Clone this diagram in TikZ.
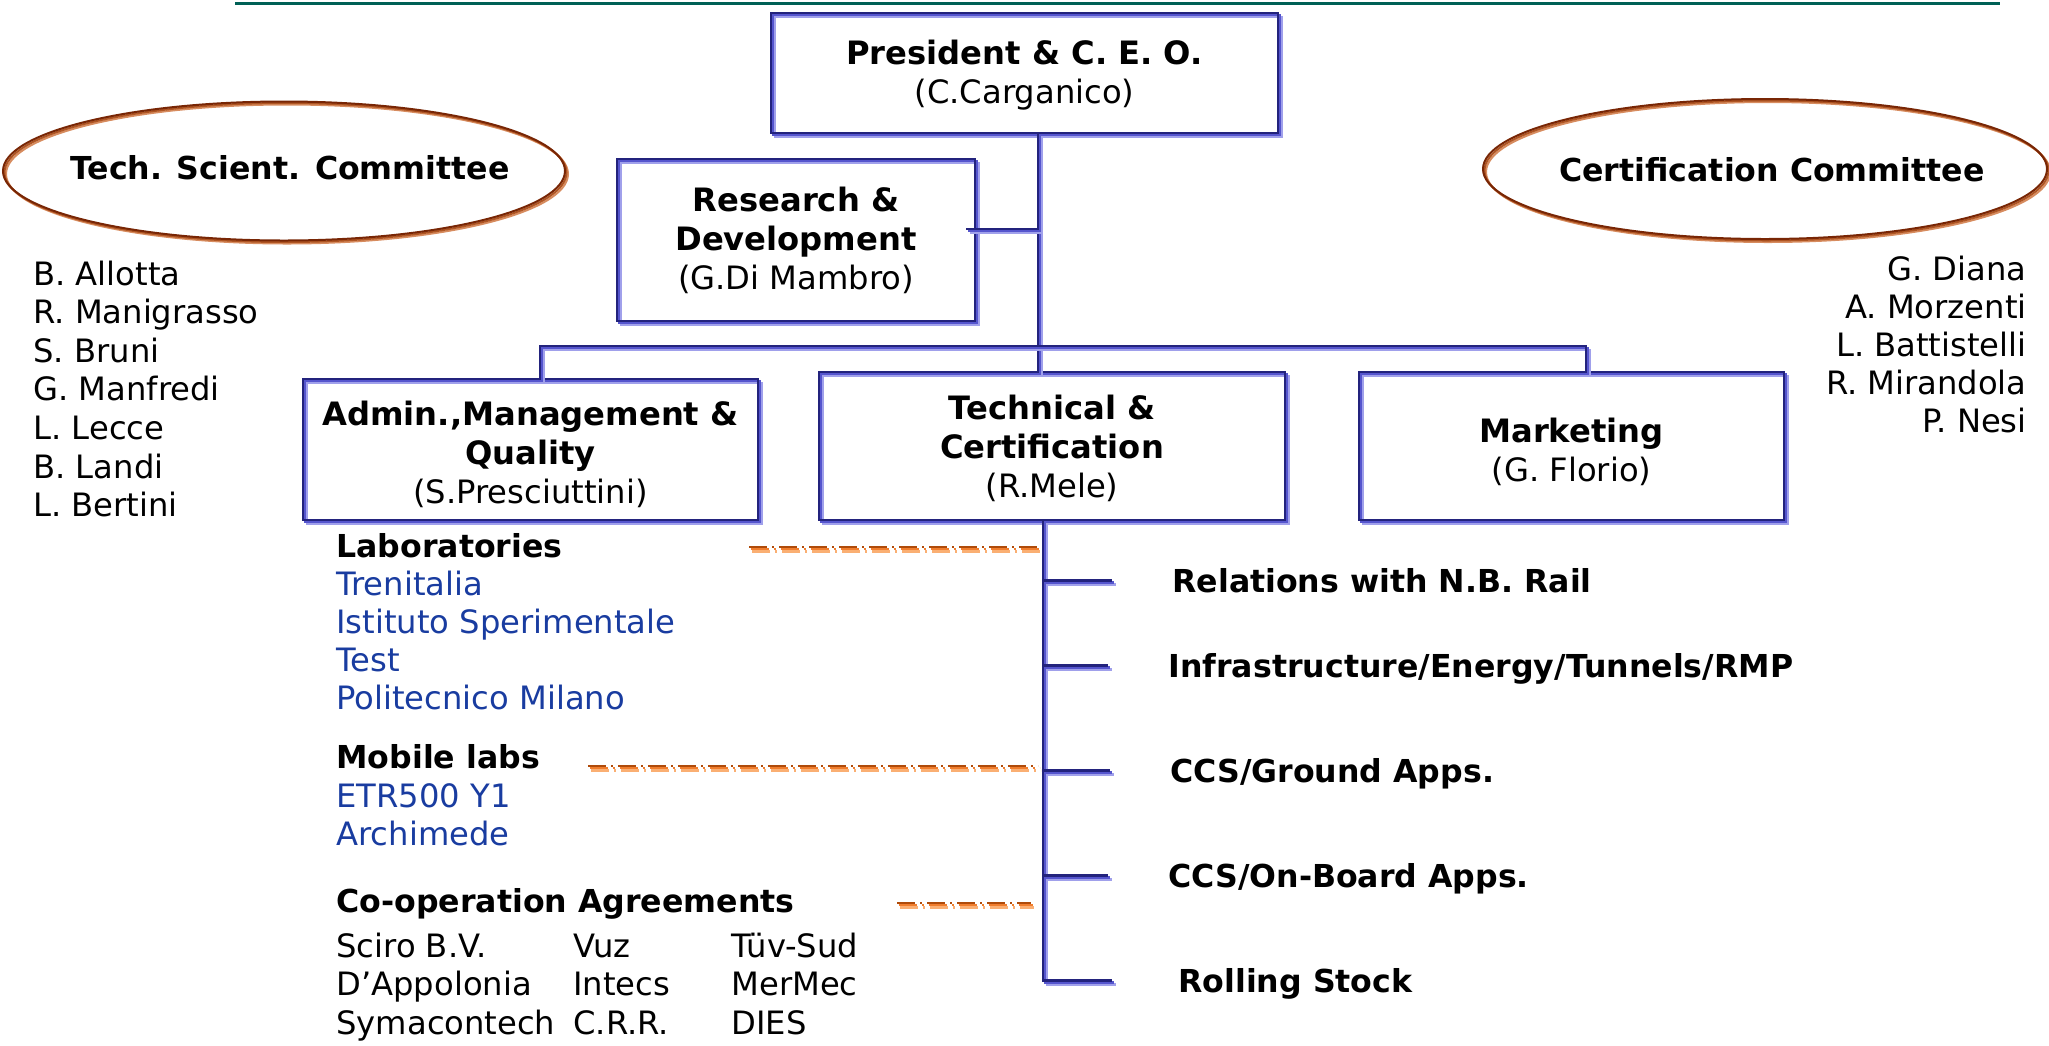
\documentclass[tikz,border=0pt]{standalone}
\usepackage{fontspec}
\setmainfont{DejaVu Sans}
\usetikzlibrary{shapes.geometric}
\definecolor{bdark}{RGB}{35,35,125}
\definecolor{bmid}{RGB}{85,85,205}
\definecolor{blight}{RGB}{160,160,235}
\definecolor{edark}{RGB}{120,38,5}
\definecolor{emid}{RGB}{175,85,35}
\definecolor{elight}{RGB}{215,140,95}
\definecolor{odark}{RGB}{175,75,10}
\definecolor{omid}{RGB}{240,125,45}
\definecolor{olight}{RGB}{250,175,115}
\definecolor{linkblue}{RGB}{25,60,160}
\definecolor{topteal}{RGB}{0,96,86}
\newcommand\fbold{\fontsize{15.8pt}{19.5pt}\selectfont\bfseries}
\newcommand\freg{\fontsize{16.1pt}{19.5pt}\selectfont}
\begin{document}
\begin{tikzpicture}[x=0.5pt,y=-0.5pt,
  orgbox/.style={rectangle, draw=bdark, line width=1.1pt, inner sep=0pt, align=center, font=\freg,
    preaction={draw=blight, line width=1.1pt, transform canvas={xshift=2pt,yshift=-2pt}},
    preaction={draw=bmid, line width=1.1pt, transform canvas={xshift=1pt,yshift=-1pt}}},
  bline/.style={draw=bdark, line width=1.1pt,
    preaction={draw=blight, line width=1.1pt, transform canvas={xshift=2pt,yshift=-2pt}},
    preaction={draw=bmid, line width=1.1pt, transform canvas={xshift=1pt,yshift=-1pt}}},
  committee/.style={ellipse, draw=edark, line width=1pt, inner sep=0pt,
    preaction={draw=elight, line width=1pt, transform canvas={xshift=1.5pt,yshift=-1.5pt}},
    preaction={draw=emid, line width=1pt, transform canvas={xshift=0.75pt,yshift=-0.75pt}}},
  odash/.style={dash pattern=on 9pt off 2.5pt on 1pt off 2.5pt},
  oline/.style={draw=odark, line width=1.1pt, odash,
    preaction={draw=olight, line width=1.2pt, odash, transform canvas={xshift=1.5pt,yshift=-2.2pt}},
    preaction={draw=omid, line width=1.2pt, odash, transform canvas={xshift=0.75pt,yshift=-1.1pt}}},
  ctitle/.style={font=\fbold, inner sep=0pt, anchor=base},
  listtxt/.style={font=\freg, inner sep=0pt, anchor=base west},
  listhead/.style={font=\fbold, inner sep=0pt, anchor=base west},
  bluetxt/.style={font=\freg, text=linkblue, inner sep=0pt, anchor=base west},
  branch/.style={font=\fbold, inner sep=0pt, anchor=west, text height=11.5pt, text depth=0pt}
]
\path[use as bounding box] (0,0) rectangle (2049,1045);

% top rule
\coordinate (topL) at (235,3.5);
\coordinate (topR) at (2000,3.5);
\draw[topteal, line width=1.5pt] (topL) -- (topR);

% committees
\node[committee, minimum width=281pt, minimum height=69.5pt] (tsc) at (284,171) {};
\node[ctitle] (tsct) at (290,179) {Tech. Scient. Committee};
\node[committee, minimum width=282pt, minimum height=70pt] (cc) at (1765,169) {};
\node[ctitle] (cct) at (1772,181) {Certification Committee};

\foreach \t [count=\i from 0] in {B. Allotta, R. Manigrasso, S. Bruni, G. Manfredi, L. Lecce, B. Landi, L. Bertini}
  \node[listtxt] (tsm\i) at (33,{285+38.6*\i}) {\t};
\foreach \t [count=\i from 0] in {G. Diana, A. Morzenti, L. Battistelli, R. Mirandola, P. Nesi}
  \node[listtxt, anchor=base east] (ccm\i) at (2027,{280+38*\i}) {\t};

% boxes
\node[orgbox, minimum width=253.5pt, minimum height=60pt] (pres) at (1024.5,73)
  {\rule{0pt}{14pt}{\bfseries President \& C. E. O.}\\(C.Carganico)};
\node[orgbox, minimum width=179pt, minimum height=81pt] (rd) at (796,240)
  {{\bfseries Research \&}\\{\bfseries Development}\\(G.Di Mambro)};
\node[orgbox, minimum width=227.5pt, minimum height=70.5pt] (adm) at (530.5,449.5)
  {\rule{0pt}{17pt}{\bfseries Admin.,Management \&}\\{\bfseries Quality}\\(S.Presciuttini)};
\node[orgbox, minimum width=233pt, minimum height=74pt] (tech) at (1052,446)
  {\rule{0pt}{15pt}{\bfseries Technical \&}\\{\bfseries Certification}\\(R.Mele)};
\node[orgbox, minimum width=212.5pt, minimum height=74pt] (mkt) at (1571.5,446)
  {\rule{0pt}{18.5pt}{\bfseries Marketing}\\(G. Florio)};

% upper connectors
\coordinate (tx) at (1038,0);
\coordinate (tx2) at (1043,0);
\draw[bline] (tx |- pres.south) -- (tx |- tech.north);
\coordinate (rdc) at ([shift={(-10,-11)}]rd.east);
\draw[bline] (rdc) -- (tx |- rdc);
\coordinate (bL) at (540,346);
\coordinate (bR) at (1586,346);
\draw[bline] (bL |- adm.north) -- (bL) -- (bR) -- (bR |- mkt.north);

% branch labels
\node[branch] (rel) at (1172,580.5) {Relations with N.B. Rail};
\node[branch] (inf) at (1168,665.5) {Infrastructure/Energy/Tunnels/RMP};
\node[branch] (gnd) at (1170,770.5) {CCS/Ground Apps.};
\node[branch] (onb) at (1168,875.5) {CCS/On-Board Apps.};
\node[branch] (roll) at (1178,980.5) {Rolling Stock};

\draw[bline] (tx2 |- tech.south) -- (tx2 |- roll.west) -- ([xshift=-33pt]roll.west);
\foreach \n in {rel,inf,gnd,onb}
  \draw[bline] (tx2 |- \n.west) -- ([xshift=-30pt]\n.west);

% left section
\node[listhead] (labh) at (336,557) {Laboratories};
\foreach \t [count=\i from 0] in {Trenitalia, Istituto Sperimentale, Test, Politecnico Milano}
  \node[bluetxt] (lab\i) at (336,{595+38.3*\i}) {\t};
\node[listhead] (mobh) at (336,768) {Mobile labs};
\node[bluetxt] (mob0) at (336,807) {ETR500 Y1};
\node[bluetxt] (mob1) at (336,845) {Archimede};
\node[listhead] (cooph) at (336,912) {Co-operation Agreements};
\node[listtxt] (c11) at (336,957) {Sciro B.V.};
\node[listtxt] (c12) at (573,957) {Vuz};
\node[listtxt] (c13) at (731,957) {Tüv-Sud};
\node[listtxt] (c21) at (336,995.5) {D’Appolonia};
\node[listtxt] (c22) at (573,995.5) {Intecs};
\node[listtxt] (c23) at (731,995.5) {MerMec};
\node[listtxt] (c31) at (336,1034) {Symacontech};
\node[listtxt] (c32) at (573,1034) {C.R.R.};
\node[listtxt] (c33) at (731,1034) {DIES};

% orange dashed links
\coordinate (labo) at (749,547);
\draw[oline] (labo) -- (tx |- labo);
\coordinate (mobo) at (588,766);
\draw[oline] (mobo) -- (tx |- mobo);
\coordinate (coa) at (897,903);
\coordinate (cob) at (1031,903);
\draw[oline] (coa) -- (cob);
\end{tikzpicture}
\end{document}
